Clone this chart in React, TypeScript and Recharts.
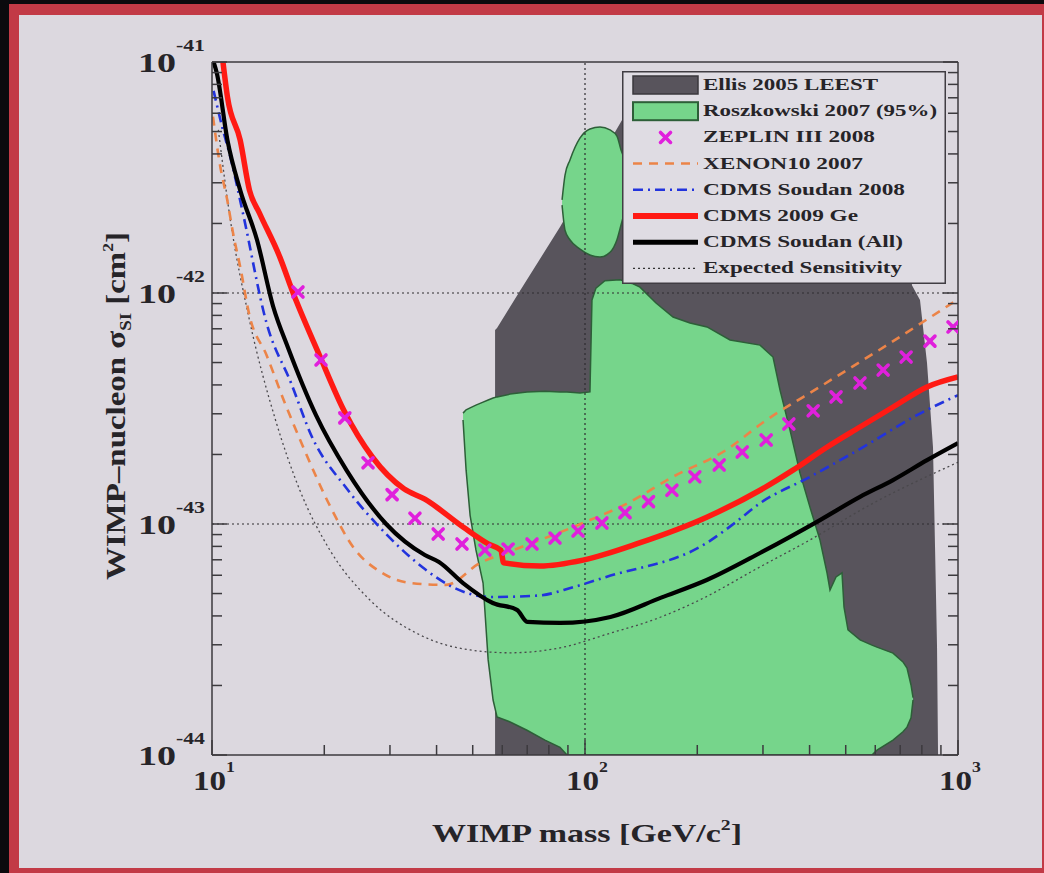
import React from "react";
import { ComposedChart, Line, Area, Scatter, XAxis, YAxis, ReferenceLine, Legend } from "recharts";

// WIMP mass [GeV/c^2] and cross-section [cm^2]
const massTicks = [10, 20, 30, 40, 50, 60, 70, 80, 90, 100, 200, 300, 400, 500, 600, 700, 800, 900, 1000];
const sigmaTicks = [
  1e-44, 2e-44, 3e-44, 4e-44, 5e-44, 6e-44, 7e-44, 8e-44, 9e-44,
  1e-43, 2e-43, 3e-43, 4e-43, 5e-43, 6e-43, 7e-43, 8e-43, 9e-43,
  1e-42, 2e-42, 3e-42, 4e-42, 5e-42, 6e-42, 7e-42, 8e-42, 9e-42, 1e-41,
];

// regions: [mass, lower, upper]
const ellis2005: [number, number, number][] = [
  [57.4, 1e-44, 6.92e-43], [58.1, 1e-44, 7.06e-43], [66.9, 1e-44, 1.02e-42], [85.7, 1e-44, 1.93e-42],
  [103.1, 1e-44, 3.24e-42], [125.7, 1e-44, 5.61e-42], [140.4, 1e-44, 6.85e-42], [721, 1e-44, 6.85e-42],
  [743, 1e-44, 2.53e-42], [752.6, 1e-44, 1.08e-42], [790.9, 1e-44, 9.33e-43], [825.9, 1e-44, 4.98e-43],
  [857, 1e-44, 2.15e-43], [867.8, 1e-44, 7.95e-44], [878.6, 1e-44, 2.93e-44], [884, 1e-44, 1.03e-44],
];

const roszkowskiMain: [number, number, number][] = [
  [47.1, 2.82e-43, 3.02e-43], [48.0, 1.71e-43, 3.12e-43], [49.2, 1.09e-43, 3.18e-43], [51.0, 7.72e-44, 3.27e-43],
  [53.3, 5.55e-44, 3.37e-43], [55.0, 2.58e-44, 3.44e-43], [56.7, 1.73e-44, 3.51e-43], [58.1, 1.46e-44, 3.55e-43],
  [63.0, 1.39e-44, 3.65e-43], [69.9, 1.28e-44, 3.73e-43], [78.1, 1.16e-44, 3.76e-43], [85.7, 1.08e-44, 3.73e-43],
  [89.5, 1e-44, 3.73e-43], [97.0, 1e-44, 3.69e-43], [103.1, 1e-44, 3.73e-43], [104.4, 1e-44, 9.33e-43],
  [107.0, 1e-44, 1.05e-42], [113.1, 1e-44, 1.13e-42], [124.1, 1e-44, 1.14e-42], [133.7, 1e-44, 1.1e-42],
  [140.4, 1e-44, 1.06e-42], [155.0, 1e-44, 9.05e-43], [172.2, 1e-44, 7.87e-43], [191.2, 1e-44, 7.42e-43],
  [212.4, 1e-44, 7.13e-43], [244.8, 1e-44, 6.26e-43], [294.6, 1e-44, 5.95e-43], [319.2, 1e-44, 5.28e-43],
  [333.3, 1e-44, 3.8e-43], [354.5, 1e-44, 2.55e-43], [377.1, 1e-44, 1.66e-43], [401.1, 1e-44, 1.18e-43],
  [426.6, 1e-44, 8.52e-44], [445.5, 1e-44, 6.14e-44], [453.8, 1e-44, 5.18e-44], [471.0, 1e-44, 5.9e-44],
  [488.7, 1e-44, 6.14e-44], [494.8, 1e-44, 4.37e-44], [507.1, 1e-44, 3.48e-44], [546.3, 1e-44, 3.15e-44],
  [588.1, 1e-44, 2.99e-44], [606.5, 1.05e-44, 2.93e-44], [669.5, 1.16e-44, 2.76e-44], [711.9, 1.26e-44, 2.53e-44],
  [730.0, 1.32e-44, 2.38e-44], [748.2, 1.45e-44, 2.01e-44], [757.6, 1.73e-44, 1.77e-44],
];

const roszkowskiIsland: [number, number, number][] = [
  [86.8, 2.4e-42, 2.53e-42], [88.4, 1.87e-42, 3.24e-42], [91.1, 1.7e-42, 3.76e-42], [97.0, 1.55e-42, 4.69e-42],
  [103.1, 1.46e-42, 5.13e-42], [109.7, 1.43e-42, 5.23e-42], [116.7, 1.5e-42, 5.08e-42], [121.8, 1.7e-42, 4.78e-42],
  [124.9, 1.97e-42, 4.16e-42], [128.1, 2.29e-42, 3.76e-42],
];

// limit curves: [mass, sigma]
const zeplin3: [number, number][] = [
  [17.0, 1.01e-42], [19.6, 5.13e-43], [22.7, 2.88e-43], [26.2, 1.84e-43], [30.4, 1.34e-43], [35.0, 1.06e-43],
  [40.4, 9.05e-44], [46.8, 8.19e-44], [53.9, 7.71e-44], [62.2, 7.79e-44], [72.1, 8.19e-44], [83.1, 8.69e-44],
  [95.8, 9.33e-44], [111, 1.01e-43], [128, 1.12e-43], [148, 1.25e-43], [171, 1.4e-43], [197, 1.6e-43],
  [229, 1.8e-43], [264, 2.05e-43], [306, 2.31e-43], [352, 2.71e-43], [409, 3.09e-43], [471, 3.55e-43],
  [546, 4.08e-43], [630, 4.64e-43], [726, 5.28e-43], [841, 6.19e-43], [970, 7.13e-43],
];

const xenon10: [number, number][] = [
  [10.06, 5.8e-42], [10.5, 3.6e-42], [11.0, 2.5e-42], [11.4, 1.8e-42], [11.9, 1.3e-42], [12.6, 8.0e-43],
  [14.0, 5.39e-43], [15.6, 3.41e-43], [17.7, 2.09e-43], [20.7, 1.2e-43], [24.0, 7.87e-44], [28.6, 6.14e-44],
  [34.2, 5.55e-44], [42.4, 5.45e-44], [52.3, 6.78e-44], [64.1, 7.7e-44], [98.8, 1.01e-43], [130, 1.23e-43],
  [172, 1.6e-43], [240, 2.1e-43], [300, 2.75e-43], [434.5, 4.0e-43], [645, 5.95e-43], [1000, 9.4e-43],
];

const cdmsSoudan2008: [number, number][] = [
  [10.1, 7.5e-42], [10.7, 5.08e-42], [11.2, 3.88e-42], [12.1, 2.22e-42], [14.0, 7.42e-43], [16.3, 4.07e-43],
  [18.5, 2.4e-43], [23.0, 1.42e-43], [29.3, 9.05e-44], [37.2, 6.38e-44], [44.2, 5.33e-44], [55.5, 4.83e-44],
  [75, 4.9e-44], [93.1, 5.33e-44], [114, 5.9e-44], [212, 8.28e-44], [250, 1.0e-43], [294.6, 1.23e-43],
  [401, 1.6e-43], [570, 2.2e-43], [776, 2.96e-43], [1000, 3.61e-43],
];

const cdms2009Ge: [number, number][] = [
  [10.7, 1e-41], [11.0, 7.06e-42], [11.9, 4.59e-42], [12.6, 2.79e-42], [13.4, 2.22e-42], [15.2, 1.43e-42],
  [16.5, 1.0e-42], [19.4, 5.39e-43], [22.6, 3.09e-43], [26.9, 1.95e-43], [32.7, 1.42e-43], [37.2, 1.28e-43],
  [47.1, 9.7e-44], [55.0, 8.2e-44], [59.5, 7.7e-44], [60.5, 6.8e-44], [75.7, 6.58e-44], [98.8, 6.98e-44],
  [140, 8.28e-44], [212, 1.07e-43], [294.6, 1.4e-43], [361, 1.71e-43], [445, 2.15e-43], [546, 2.63e-43],
  [670, 3.21e-43], [826, 3.92e-43], [1000, 4.33e-43],
];

const cdmsSoudanAll: [number, number][] = [
  [10.1, 1e-41], [10.3, 8.96e-42], [11.0, 4.59e-42], [11.9, 2.79e-42], [13.2, 1.7e-42], [14.6, 8.7e-43],
  [16.0, 5.78e-43], [19.0, 2.96e-43], [23.0, 1.7e-43], [29.3, 1.0e-43], [37.2, 7.34e-44], [40.6, 6.85e-44],
  [47.1, 5.55e-44], [56.6, 4.55e-44], [65.7, 4.25e-44], [70.0, 3.77e-44], [85.7, 3.73e-44], [117, 3.96e-44],
  [160, 4.8e-44], [212, 5.72e-44], [294.6, 7.49e-44], [426.6, 1.04e-43], [546, 1.31e-43], [669.5, 1.55e-43],
  [826, 1.89e-43], [1000, 2.24e-43],
];

const expectedSensitivity: [number, number][] = [
  [10.4, 5.08e-42], [11.2, 2.07e-42], [12.6, 7.64e-43], [14.8, 2.82e-43], [17.2, 1.4e-43], [20.7, 7.71e-44],
  [26.5, 4.69e-44], [36.1, 3.31e-44], [49.2, 2.85e-44], [63.0, 2.77e-44], [85.7, 2.91e-44], [117, 3.37e-44],
  [152, 3.84e-44], [203, 4.69e-44], [294, 6.51e-44], [401, 8.53e-44], [581, 1.21e-43], [1000, 1.85e-43],
];

const legendNames = [
  "Ellis 2005 LEEST",
  "Roszkowski 2007 (95%)",
  "ZEPLIN III 2008",
  "XENON10 2007",
  "CDMS Soudan 2008",
  "CDMS 2009 Ge",
  "CDMS Soudan (All)",
  "Expected Sensitivity",
];

const SERIF = "'Liberation Serif', 'Times New Roman', serif";
const INK = "#262428";
const TICK = "#3c3a3e";
const BG = "#dcd8df";
const GRAY = "#58545c";
const GREEN = "#76d58b";
const GREEN_EDGE = "#2d5f38";
const MAGENTA = "#e020dc";
const ORANGE = "#ec8448";
const BLUE = "#2233dd";
const RED = "#ff1a14";

const legendTextWidth = [175, 234, 172, 160, 202, 155, 200, 199];

const toPts = (arr: [number, number][]) => arr.map(([m, s]) => ({ m, s }));
const toBand = (arr: [number, number, number][]) => arr.map(([m, lo, hi]) => ({ m, r: [lo, hi] }));

const isDecade = (v: number) => Math.abs(Math.log10(v) - Math.round(Math.log10(v))) < 1e-6;
const MAJOR = 15;
const MINOR = 10;

function BottomTick({ x, y, payload }: any) {
  const major = isDecade(payload.value);
  return (
    <g>
      <line x1={x} x2={x} y1={y} y2={y - (major ? MAJOR : MINOR)} stroke={TICK} strokeWidth={1.5} />
      {major && (
        <text x={x + 2} y={y + 35} textAnchor="middle" fontFamily={SERIF} fontWeight="bold" fill={INK}
          textLength={42} lengthAdjust="spacingAndGlyphs">
          <tspan fontSize={28}>10</tspan>
          <tspan fontSize={15} dy={-18}>{Math.round(Math.log10(payload.value))}</tspan>
        </text>
      )}
    </g>
  );
}

function TopTick({ x, y, payload }: any) {
  const major = isDecade(payload.value);
  return <line x1={x} x2={x} y1={y} y2={y + (major ? MAJOR : MINOR)} stroke={TICK} strokeWidth={1.5} />;
}

function LeftTick({ x, y, payload }: any) {
  const major = isDecade(payload.value);
  return (
    <g>
      <line x1={x} x2={x + (major ? MAJOR : MINOR)} y1={y} y2={y} stroke={TICK} strokeWidth={1.5} />
      {major && (
        <text x={x - 7} y={y + 10} textAnchor="end" fontFamily={SERIF} fontWeight="bold" fill={INK}
          textLength={67} lengthAdjust="spacingAndGlyphs">
          <tspan fontSize={28}>10</tspan>
          <tspan fontSize={16} dy={-21}>{Math.round(Math.log10(payload.value))}</tspan>
        </text>
      )}
    </g>
  );
}

function RightTick({ x, y, payload }: any) {
  const major = isDecade(payload.value);
  return <line x1={x} x2={x - (major ? MAJOR : MINOR)} y1={y} y2={y} stroke={TICK} strokeWidth={1.5} />;
}

function XMark({ cx, cy }: any) {
  const d = 5;
  return (
    <g stroke={MAGENTA} strokeWidth={3.6} strokeLinecap="round">
      <line x1={cx - d} y1={cy - d} x2={cx + d} y2={cy + d} />
      <line x1={cx - d} y1={cy + d} x2={cx + d} y2={cy - d} />
    </g>
  );
}

function XTitle() {
  return (
    <text x={587} y={842} textAnchor="middle" fontFamily={SERIF} fontWeight="bold" fontSize={26} fill={INK}
      textLength={310} lengthAdjust="spacingAndGlyphs">
      WIMP mass [GeV/c<tspan dy={-12} fontSize={15}>2</tspan><tspan dy={12}>]</tspan>
    </text>
  );
}

function YTitle() {
  return (
    <text x={125} y={406} transform="rotate(-90 125 406)" textAnchor="middle" fontFamily={SERIF}
      fontWeight="bold" fontSize={28} fill={INK} textLength={348} lengthAdjust="spacingAndGlyphs">
      WIMP–nucleon σ<tspan dy={6} fontSize={16}>SI</tspan>
      <tspan dy={-6}> [cm</tspan><tspan dy={-12} fontSize={15}>2</tspan><tspan dy={12}>]</tspan>
    </text>
  );
}

function LegendSwatch({ i, cy }: { i: number; cy: number }) {
  const x1 = 11, x2 = 76;
  switch (i) {
    case 0:
      return <rect x={x1} y={cy - 9} width={x2 - x1} height={18} fill={GRAY} stroke="#3a373d" strokeWidth={1.5} />;
    case 1:
      return <rect x={x1} y={cy - 9} width={x2 - x1} height={18} fill={GREEN} stroke={GREEN_EDGE} strokeWidth={2} />;
    case 2:
      return <XMark cx={(x1 + x2) / 2} cy={cy} />;
    case 3:
      return <line x1={x1} x2={x2} y1={cy} y2={cy} stroke={ORANGE} strokeWidth={2.5} strokeDasharray="9 7" />;
    case 4:
      return <line x1={x1} x2={x2} y1={cy} y2={cy} stroke={BLUE} strokeWidth={2.5} strokeDasharray="10 5 2 5" />;
    case 5:
      return <line x1={x1} x2={x2} y1={cy} y2={cy} stroke={RED} strokeWidth={6} />;
    case 6:
      return <line x1={x1} x2={x2} y1={cy} y2={cy} stroke="#000" strokeWidth={5} />;
    default:
      return <line x1={x1} x2={x2} y1={cy} y2={cy} stroke="#333" strokeWidth={1.3} strokeDasharray="2 3" />;
  }
}

function LegendBox() {
  return (
    <svg width={324} height={213} style={{ display: "block" }}>
      <rect x={0.75} y={0.75} width={322.5} height={211.5} fill="#dfdce3" stroke="#403d43" strokeWidth={1.5} />
      {legendNames.map((name, i) => {
        const cy = 14 + i * 26.2;
        return (
          <g key={name}>
            <LegendSwatch i={i} cy={cy} />
            <text x={81} y={cy + 5} fontFamily={SERIF} fontWeight="bold" fontSize={16} fill={INK}
              textLength={legendTextWidth[i]} lengthAdjust="spacingAndGlyphs">
              {name}
            </text>
          </g>
        );
      })}
    </svg>
  );
}

export default function App() {
  return (
    <div style={{ position: "absolute", left: 0, top: 0, width: 1044, height: 873, background: "#0b0a0d", overflow: "hidden" }}>
      <div style={{ position: "absolute", left: 9, top: 4, right: 0, bottom: 0, background: "#c23a46" }} />
      <div style={{ position: "absolute", left: 19, top: 15, right: 2, bottom: 5, background: BG }} />
      <div style={{ position: "absolute", left: 0, top: 0 }}>
        <ComposedChart width={1044} height={873} margin={{ top: 52, right: 66, bottom: 78, left: 132 }}>
          <XAxis
            xAxisId={0}
            dataKey="m"
            type="number"
            scale="log"
            domain={[10, 1000]}
            ticks={massTicks}
            interval={0}
            allowDataOverflow
            height={40}
            tickSize={0}
            tickMargin={0}
            tick={<BottomTick />}
            axisLine={{ stroke: TICK, strokeWidth: 1.5 }}
            label={<XTitle />}
          />
          <XAxis
            xAxisId="top"
            orientation="top"
            type="number"
            scale="log"
            domain={[10, 1000]}
            ticks={massTicks}
            interval={0}
            allowDataOverflow
            height={10}
            tickSize={0}
            tickMargin={0}
            tick={<TopTick />}
            axisLine={{ stroke: TICK, strokeWidth: 1.5 }}
          />
          <YAxis
            yAxisId={0}
            type="number"
            scale="log"
            domain={[1e-44, 1e-41]}
            ticks={sigmaTicks}
            interval={0}
            allowDataOverflow
            width={80}
            tickSize={0}
            tickMargin={0}
            tick={<LeftTick />}
            axisLine={{ stroke: TICK, strokeWidth: 1.5 }}
            label={<YTitle />}
          />
          <YAxis
            yAxisId="right"
            orientation="right"
            type="number"
            scale="log"
            domain={[1e-44, 1e-41]}
            ticks={sigmaTicks}
            interval={0}
            allowDataOverflow
            width={20}
            tickSize={0}
            tickMargin={0}
            tick={<RightTick />}
            axisLine={{ stroke: TICK, strokeWidth: 1.5 }}
          />

          <Area data={toBand(ellis2005)} dataKey="r" type="linear" fill={GRAY} fillOpacity={1} stroke="none" isAnimationActive={false} />
          <Area data={toBand(roszkowskiMain)} dataKey="r" type="linear" fill={GREEN} fillOpacity={1} stroke={GREEN_EDGE} strokeWidth={1.5} isAnimationActive={false} />
          <Area data={toBand(roszkowskiIsland)} dataKey="r" type="monotone" fill={GREEN} fillOpacity={1} stroke={GREEN_EDGE} strokeWidth={1.5} isAnimationActive={false} />

          <ReferenceLine y={1e-42} stroke="#2e2c30" strokeWidth={1.2} strokeDasharray="2 3" />
          <ReferenceLine y={1e-43} stroke="#2e2c30" strokeWidth={1.2} strokeDasharray="2 3" />
          <ReferenceLine x={100} stroke="#2e2c30" strokeWidth={1.2} strokeDasharray="2 3" />

          <Line data={toPts(expectedSensitivity)} dataKey="s" type="monotone" stroke="#4a484c" strokeWidth={1.3} strokeDasharray="2 3" dot={false} isAnimationActive={false} />
          <Line data={toPts(xenon10)} dataKey="s" type="monotone" stroke={ORANGE} strokeWidth={2.6} strokeDasharray="9 7" dot={false} isAnimationActive={false} />
          <Line data={toPts(cdmsSoudan2008)} dataKey="s" type="monotone" stroke={BLUE} strokeWidth={2.6} strokeDasharray="10 5 2 5" dot={false} isAnimationActive={false} />
          <Line data={toPts(cdmsSoudanAll)} dataKey="s" type="monotone" stroke="#000" strokeWidth={4.2} dot={false} isAnimationActive={false} />
          <Line data={toPts(cdms2009Ge)} dataKey="s" type="monotone" stroke={RED} strokeWidth={5.5} dot={false} isAnimationActive={false} />
          <Scatter data={toPts(zeplin3)} dataKey="s" shape={<XMark />} isAnimationActive={false} />

          <Legend
            layout="horizontal"
            verticalAlign="middle"
            align="center"
            content={<LegendBox />}
            wrapperStyle={{ left: 622, top: 71, width: 324, height: 213 }}
          />
        </ComposedChart>
      </div>
    </div>
  );
}
